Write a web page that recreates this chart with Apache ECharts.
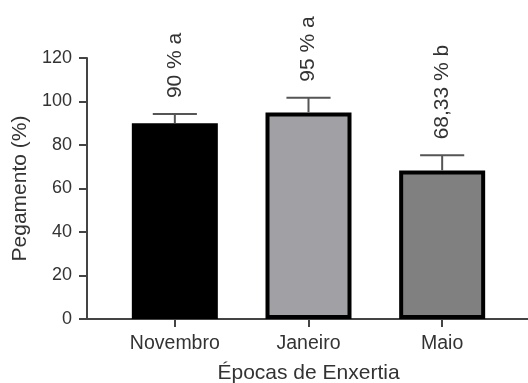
<!DOCTYPE html>
<html>
<head>
<meta charset="utf-8">
<script src="https://cdn.jsdelivr.net/npm/echarts@6/dist/echarts.min.js"></script>
<style>
html,body{margin:0;padding:0;background:#fff;}
#chart{width:528px;height:383px;}
</style>
</head>
<body>
<div id="chart"></div>
<script>
var categories = ['Novembro', 'Janeiro', 'Maio'];
var values = [90, 95, 68.33];
var errors = [4.2, 6.7, 6.9];
var barLabels = ['90 % a', '95 % a', '68,33 % b'];
var yTicks = [0, 20, 40, 60, 80, 100, 120];

var barColors = ['#000000', '#a1a1a5', '#808080'];
var FONT = '"Liberation Sans", Arial, sans-serif';
var AXIS = '#444444';
var TEXT = '#333333';

var chart = echarts.init(document.getElementById('chart'), null, {renderer: 'canvas'});

var barData = values.map(function (v, i) {
  return {value: v, itemStyle: {color: barColors[i], borderColor: '#000', borderWidth: 4}};
});
var errData = values.map(function (v, i) { return [i, v, errors[i]]; });

var option = {
  backgroundColor: '#ffffff',
  animation: false,
  grid: [
    {left: 108, right: 19, top: 58, bottom: 64, outerBoundsMode: 'none', containLabel: false},
    {left: 87, right: 0, top: 58, bottom: 64, outerBoundsMode: 'none', containLabel: false}
  ],
  xAxis: [{
    type: 'category',
    gridIndex: 0,
    data: categories,
    boundaryGap: true,
    axisLine: {show: false},
    axisTick: {show: true, alignWithLabel: true, length: 8, lineStyle: {color: AXIS, width: 2}},
    axisLabel: {fontFamily: FONT, fontSize: 19.5, color: TEXT, margin: 15},
    splitLine: {show: false},
    name: 'Épocas de Enxertia',
    nameLocation: 'middle',
    nameGap: 44,
    nameTextStyle: {fontFamily: FONT, fontSize: 21, color: TEXT}
  }, {
    type: 'value',
    gridIndex: 1,
    min: 0, max: 1,
    axisLine: {show: true, lineStyle: {color: AXIS, width: 2}},
    axisTick: {show: false},
    axisLabel: {show: false},
    splitLine: {show: false}
  }],
  yAxis: [{
    type: 'value',
    gridIndex: 0,
    min: yTicks[0],
    max: yTicks[yTicks.length - 1],
    interval: yTicks[1] - yTicks[0],
    offset: 21,
    axisLine: {show: true, lineStyle: {color: AXIS, width: 2}},
    axisTick: {show: true, length: 8, lineStyle: {color: AXIS, width: 2}},
    axisLabel: {fontFamily: FONT, fontSize: 18, color: TEXT, margin: 15},
    splitLine: {show: false},
    name: 'Pegamento (%)',
    nameLocation: 'middle',
    nameRotate: 90,
    nameGap: 56,
    nameTextStyle: {fontFamily: FONT, fontSize: 21, color: TEXT}
  }, {
    type: 'value',
    gridIndex: 1,
    show: false,
    min: 0, max: 1
  }],
  series: [{
    type: 'bar',
    xAxisIndex: 0,
    yAxisIndex: 0,
    barWidth: 86,
    data: barData,
    z: 2
  }, {
    type: 'custom',
    xAxisIndex: 0,
    yAxisIndex: 0,
    z: 3,
    data: errData,
    renderItem: function (params, api) {
      var x = api.value(0), v = api.value(1), e = api.value(2);
      var base = api.coord([x, v]);
      var top = api.coord([x, v + e]);
      var hw = api.size([1, 0])[0] * 0.165;
      var ls = {stroke: '#555555', lineWidth: 2};
      return {
        type: 'group',
        children: [
          {type: 'line', shape: {x1: top[0], y1: base[1], x2: top[0], y2: top[1]}, style: ls},
          {type: 'line', shape: {x1: top[0] - hw, y1: top[1], x2: top[0] + hw, y2: top[1]}, style: ls},
          {type: 'text', x: top[0], y: top[1] - 16, rotation: Math.PI / 2,
           style: {text: barLabels[params.dataIndex], fill: TEXT, font: '21px ' + FONT,
                   textAlign: 'left', textVerticalAlign: 'middle'}}
        ]
      };
    }
  }]
};
chart.setOption(option);
</script>
</body>
</html>
